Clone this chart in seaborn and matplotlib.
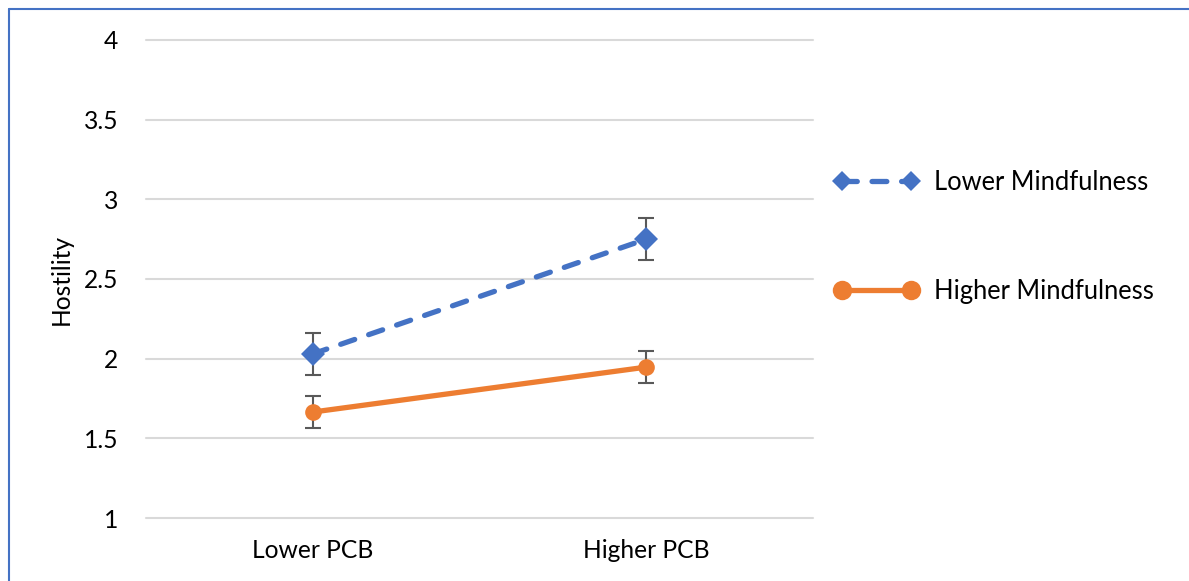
import numpy as np
import pandas as pd
import seaborn as sns
import matplotlib.pyplot as plt
from matplotlib.lines import Line2D

# data
pcb_levels = ['Lower PCB', 'Higher PCB']
groups = ['Lower Mindfulness', 'Higher Mindfulness']
lower_mind = [2.03, 2.75]
higher_mind = [1.665, 1.947]
lower_mind_err = [0.13, 0.13]
higher_mind_err = [0.10, 0.10]

df = pd.DataFrame({
    'pcb': pcb_levels * 2,
    'hostility': lower_mind + higher_mind,
    'err': lower_mind_err + higher_mind_err,
    'group': [groups[0]] * 2 + [groups[1]] * 2,
})

blue = '#4472C4'
orange = '#ED7D31'

sns.set_style('white')
plt.rcParams['font.family'] = ['Lato', 'DejaVu Sans']
plt.rcParams['text.color'] = 'black'
plt.rcParams['xtick.color'] = 'black'
plt.rcParams['ytick.color'] = 'black'
plt.rcParams['axes.labelcolor'] = 'black'

fig = plt.figure(figsize=(11.89, 5.81), dpi=100)
ax = fig.add_axes([0.1228, 0.1084, 0.561, 0.8228])

# error bars below the markers
for g in groups:
    sub = df[df.group == g]
    ax.errorbar(sub['pcb'], sub['hostility'], yerr=sub['err'], fmt='none',
                ecolor='#595959', elinewidth=1.5, capsize=6, capthick=1.5, zorder=2)

sns.lineplot(data=df, x='pcb', y='hostility', hue='group', style='group',
             hue_order=groups, style_order=groups,
             palette=[blue, orange], markers=['D', 'o'], dashes=[(2.8, 2.8), ''],
             linewidth=3.8, markersize=12, markeredgewidth=0, ax=ax, zorder=3)

for ln in ax.lines:
    ln.set_dash_capstyle('round')
    ln.set_solid_capstyle('round')
for ln, ms in zip(ax.lines[-2:], [11, 14]):
    ln.set_markersize(ms)

ax.set_xlim(-0.5, 1.5)
ax.set_ylim(1, 4)
ax.set_yticks([1, 1.5, 2, 2.5, 3, 3.5, 4])
ax.set_yticklabels(['1', '1.5', '2', '2.5', '3', '3.5', '4'])
ax.yaxis.grid(True, color='#D9D9D9', linewidth=1.5)
for gl in ax.get_ygridlines():
    gl.set_clip_on(False)
ax.xaxis.grid(False)
sns.despine(ax=ax, left=True, bottom=True)
ax.tick_params(axis='y', length=0, pad=20, labelsize=17.7)
ax.tick_params(axis='x', length=0, pad=15, labelsize=17.7)
ax.set_xlabel('')
ax.set_ylabel('Hostility', fontsize=17.7, labelpad=8)

handles, labels = ax.get_legend_handles_labels()
for h, ms in zip(handles, [10, 14]):
    h.set_linewidth(3.8)
    h.set_dash_capstyle('round')
    h.set_solid_capstyle('round')
    h.set_markersize(ms)
leg = ax.legend(handles, labels, loc='upper left', bbox_to_anchor=(0.998, 0.776),
                frameon=False, fontsize=18.4, numpoints=2, handlelength=3.3,
                handletextpad=0.6, labelspacing=3.28)

# chart frame (top and left edges)
fig.add_artist(Line2D([0.0076, 1.0], [0.9845, 0.9845], color=blue, linewidth=1.5))
fig.add_artist(Line2D([0.0076, 0.0076], [0.0, 0.9845], color=blue, linewidth=1.5))

fig.savefig('out.png', dpi=100)
